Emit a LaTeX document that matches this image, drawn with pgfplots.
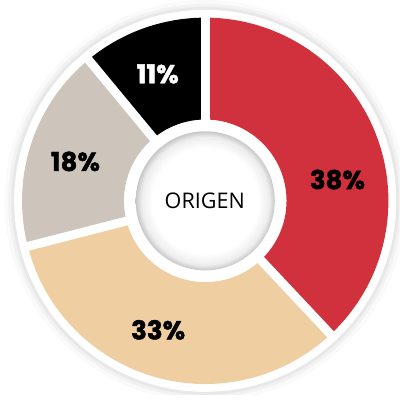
\documentclass[border=0pt]{standalone}
\usepackage{fontspec}
\usepackage{pgfplots}
\usepackage{pgfplotstable}
\pgfplotsset{compat=1.18}
\newfontfamily\labelfont[BoldFeatures={FakeBold=1.6}]{Poppins}
\newfontfamily\centerfont{Open Sans}
\definecolor{cRed}{RGB}{209,49,60}
\definecolor{cTan}{RGB}{239,206,162}
\definecolor{cGray}{RGB}{205,196,188}
\definecolor{cBlack}{RGB}{0,0,0}
\pgfdeclareradialshading{innershadow}{\pgfpoint{0bp}{0bp}}{color(0bp)=(white); color(19bp)=(white); color(23bp)=(black!7); color(25bp)=(black!22); color(50bp)=(black!22)}
\tikzset{lab/.style={font=\labelfont\bfseries\fontsize{26.5}{26.5}\selectfont, anchor=base}}
% value, colour, label x, label y (pixels from top), label text colour
\pgfplotstableread{
val col lx ly tc
38 cRed 344.5 193 black
33 cTan 161.5 346.5 black
18 cGray 77 174.5 black
11 cBlack 161 85 white
}\data
\def\cx{209.5}
\def\cy{198}
\begin{document}
\begin{tikzpicture}
\begin{axis}[hide axis, x=1pt, y=1pt, xmin=0, xmax=408, ymin=0, ymax=403,
  scale only axis, disabledatascaling, clip=false]
\fill[white] (axis cs:0,0) rectangle (axis cs:408,403);
\begin{scope}
\clip (axis cs:0,0) rectangle (axis cs:408,403);
\fill[black!2] (axis cs:\cx,\cy) circle[radius=205pt];
\fill[black!5] (axis cs:\cx,\cy) circle[radius=201pt];
\fill[black!9] (axis cs:\cx,\cy) circle[radius=198pt];
\fill[white] (axis cs:\cx,\cy) circle[radius=195pt];
\end{scope}
\pgfplotstablegetrowsof{\data}
\pgfmathtruncatemacro\nrows{\pgfplotsretval-1}
\def\cum{0}
\pgfplotsforeachungrouped \i in {0,...,\nrows}{%
  \pgfplotstablegetelem{\i}{val}\of\data \let\v\pgfplotsretval
  \pgfplotstablegetelem{\i}{col}\of\data \let\c\pgfplotsretval
  \pgfmathsetmacro\aa{90-3.6*\cum}%
  \pgfmathsetmacro\bb{90-3.6*(\cum+\v)}%
  \pgfmathsetmacro\cum{\cum+\v}%
  \edef\temp{\noexpand\fill[\c] (axis cs:\cx,\cy) ++(\aa:83pt) arc[start angle=\aa, end angle=\bb, radius=83pt] -- ++(\bb:104pt) arc[start angle=\bb, end angle=\aa, radius=187pt] -- cycle;}%
  \temp
}
\def\cum{0}
\pgfplotsforeachungrouped \i in {0,...,\nrows}{%
  \pgfplotstablegetelem{\i}{val}\of\data \let\v\pgfplotsretval
  \pgfmathsetmacro\aa{90-3.6*\cum}%
  \pgfmathsetmacro\cum{\cum+\v}%
  \edef\temp{\noexpand\draw[white, line width=9pt] (axis cs:\cx,\cy) -- ++(\aa:190pt);}%
  \temp
}
\shade[shading=innershadow] (axis cs:\cx,\cy) circle[radius=71pt];
\node[font=\centerfont\fontsize{22}{22}\selectfont, anchor=base] at (axis cs:209,190) {ORIGEN};
\pgfplotsforeachungrouped \i in {0,...,\nrows}{%
  \pgfplotstablegetelem{\i}{val}\of\data \let\v\pgfplotsretval
  \pgfplotstablegetelem{\i}{lx}\of\data \let\lx\pgfplotsretval
  \pgfplotstablegetelem{\i}{ly}\of\data \let\ly\pgfplotsretval
  \pgfplotstablegetelem{\i}{tc}\of\data \let\tc\pgfplotsretval
  \pgfmathsetmacro\lyy{403-\ly}%
  \edef\temp{\noexpand\node[lab, text=\tc] at (axis cs:\lx,\lyy) {\v\noexpand\%};}%
  \temp
}
\end{axis}
\end{tikzpicture}
\end{document}
